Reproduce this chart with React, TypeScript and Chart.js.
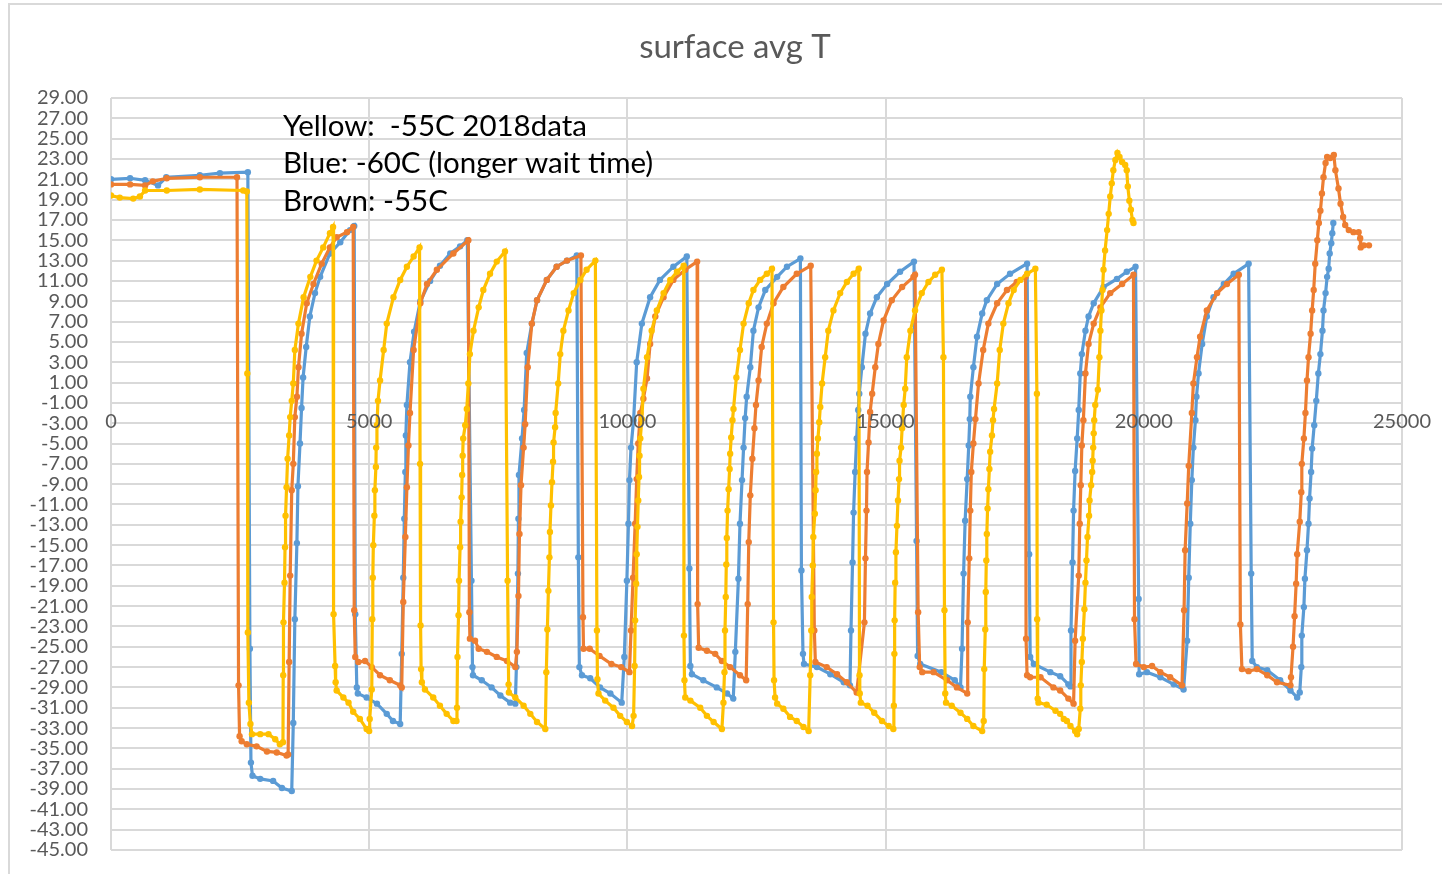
import React, { useEffect, useRef } from "react";
import { Chart, registerables } from "chart.js";

Chart.register(...registerables);

const titleText = "surface avg T";
const noteLines = ["Yellow:  -55C 2018data", "Blue: -60C (longer wait time)", "Brown: -55C"];
const xTickValues = [0, 5000, 10000, 15000, 20000, 25000];
const yMin = -45;
const yMax = 29;
const yStep = 2;

// Blue: -60C (longer wait time)
const blueData: [number, number][] = [
  [0, 21.0], [370, 21.1], [660, 20.9], [910, 20.4], [1070, 21.2], [1720, 21.4], [2110, 21.6], [2650, 21.7],
  [2690, -25.2], [2710, -36.4], [2740, -37.7], [2890, -38.0], [3140, -38.2], [3310, -38.9], [3500, -39.2],
  [3530, -32.5], [3560, -22.3], [3600, -14.8], [3620, -9.2], [3660, -5.0], [3690, -1.5], [3720, 1.5], [3780, 4.5], [3850, 7.5], [3950, 9.8], [4050, 11.4], [4240, 13.7], [4440, 14.8], [4630, 16.0], [4710, 16.4],
  [4730, -21.8], [4760, -29.0], [4780, -29.6], [4950, -30.0], [5150, -30.6], [5340, -31.6], [5460, -32.3], [5600, -32.6],
  [5630, -25.7], [5660, -18.2], [5680, -12.4], [5700, -7.8], [5710, -4.2], [5730, -1.2], [5790, 3.0], [5870, 6.0], [5990, 9.0], [6180, 11.0], [6370, 12.5], [6570, 13.7], [6760, 14.4], [6900, 15.0],
  [6980, -18.5], [7000, -27.0], [7010, -27.8], [7180, -28.3], [7370, -29.0], [7540, -29.8], [7730, -30.5], [7830, -30.6],
  [7850, -27.0], [7880, -17.8], [7890, -12.4], [7900, -8.1], [7960, -4.5], [8000, -1.7], [8050, 3.9], [8150, 6.8], [8250, 9.1], [8440, 11.1], [8630, 12.4], [8830, 13.0], [9020, 13.5],
  [9050, -16.2], [9070, -27.0], [9120, -27.8], [9280, -28.1], [9470, -29.0], [9670, -29.6], [9890, -30.5],
  [9940, -26.0], [9990, -18.5], [10020, -12.9], [10040, -8.6], [10070, -5.4], [10120, -2.7], [10180, 3.0], [10280, 6.8], [10440, 9.4], [10630, 11.1], [10890, 12.4], [11150, 13.4],
  [11200, -17.3], [11220, -26.9], [11250, -27.7], [11470, -28.3], [11730, -29.0], [11930, -29.6], [12050, -30.1],
  [12090, -25.5], [12150, -18.3], [12180, -12.9], [12220, -8.6], [12250, -5.4], [12280, -2.5], [12310, -0.4], [12380, 2.5], [12440, 6.1], [12540, 8.4], [12670, 10.1], [12900, 11.4], [13090, 12.4], [13350, 13.2],
  [13370, -17.5], [13400, -25.7], [13420, -26.7], [13670, -27.0], [13930, -27.7], [14190, -28.5], [14310, -28.8],
  [14330, -23.4], [14360, -16.7], [14380, -11.8], [14410, -7.8], [14440, -4.5], [14470, -1.7], [14490, -0.1], [14540, 2.5], [14610, 5.8], [14700, 7.8], [14830, 9.4], [15030, 10.7], [15280, 11.9], [15550, 12.9],
  [15600, -14.6], [15620, -25.9], [15670, -26.7], [16080, -27.5], [16340, -28.3], [16450, -29.0],
  [16480, -25.2], [16510, -17.8], [16540, -12.6], [16580, -8.5], [16610, -5.2], [16630, -2.6], [16640, -0.4], [16700, 2.5], [16770, 5.5], [16870, 7.8], [16960, 9.1], [17160, 10.7], [17410, 11.7], [17740, 12.7],
  [17780, -15.9], [17800, -26.0], [17870, -26.7], [18190, -27.5], [18380, -27.9], [18540, -28.7], [18580, -28.9],
  [18590, -23.4], [18620, -16.7], [18640, -11.6], [18670, -7.7], [18710, -4.5], [18740, -1.7], [18770, 1.9], [18800, 3.8], [18870, 6.1], [18930, 7.5], [19030, 8.8], [19220, 10.4], [19480, 11.2], [19670, 11.9], [19840, 12.4],
  [19900, -20.3], [19910, -27.7], [20060, -27.5], [20320, -28.0], [20580, -28.7], [20770, -29.2],
  [20840, -24.4], [20870, -18.2], [20900, -12.9], [20930, -8.6], [20960, -5.4], [21000, -2.7], [21020, -0.4], [21060, 1.9], [21130, 4.8], [21220, 7.5], [21350, 9.4], [21550, 10.7], [21740, 11.7], [22030, 12.7],
  [22080, -17.8], [22100, -26.4], [22190, -27.0], [22390, -27.3], [22640, -28.3], [22840, -29.3], [22970, -30.0], [23020, -29.5],
  [23050, -27.0], [23060, -23.9], [23100, -21.1], [23120, -18.3], [23160, -15.5], [23190, -12.9], [23210, -10.4], [23240, -7.8], [23260, -5.5], [23300, -3.2], [23340, -0.8], [23380, 1.9], [23420, 3.8], [23460, 6.1], [23480, 8.1], [23520, 9.8], [23550, 11.4], [23580, 12.2], [23600, 13.7], [23630, 14.7], [23650, 15.7], [23670, 16.7],
];

// Brown (orange): -55C
const orangeData: [number, number][] = [
  [0, 20.5], [370, 20.5], [660, 20.4], [810, 20.8], [1080, 21.1], [1720, 21.2], [2440, 21.2],
  [2470, -28.8], [2490, -33.8], [2530, -34.3], [2630, -34.6], [2820, -34.8], [3020, -35.3], [3210, -35.4], [3400, -35.7], [3430, -35.6],
  [3450, -26.5], [3470, -18.0], [3500, -9.6], [3530, -7.0], [3560, -2.4], [3600, -0.4], [3630, 2.5], [3690, 5.8], [3790, 8.8], [3920, 10.7], [4080, 12.7], [4240, 14.3], [4370, 15.3], [4570, 15.8], [4690, 16.3],
  [4710, -21.4], [4730, -26.0], [4790, -26.5], [4920, -26.4], [5050, -27.0], [5210, -27.8], [5400, -28.3], [5600, -28.8], [5630, -29.0],
  [5660, -20.6], [5700, -14.2], [5730, -9.3], [5760, -5.2], [5790, -2.0], [5860, 4.2], [5990, 8.8], [6120, 10.7], [6310, 12.1], [6630, 13.7], [6920, 15.0],
  [6940, -21.6], [6950, -24.2], [7050, -24.4], [7120, -25.2], [7280, -25.5], [7470, -26.0], [7670, -26.4], [7830, -27.0],
  [7860, -25.5], [7890, -20.0], [7910, -13.9], [7940, -9.1], [7990, -5.4], [8020, -3.1], [8070, 2.5], [8150, 6.8], [8250, 9.1], [8440, 11.1], [8630, 12.4], [8830, 13.0], [9100, 13.5],
  [9140, -22.1], [9150, -25.2], [9270, -25.2], [9460, -25.9], [9690, -26.7], [9880, -27.0], [10040, -27.5],
  [10070, -23.4], [10110, -18.2], [10150, -12.9], [10180, -8.5], [10210, -5.0], [10250, -2.0], [10310, -0.6], [10380, 1.4], [10440, 4.8], [10540, 7.5], [10700, 9.4], [10890, 11.1], [11120, 12.1], [11350, 12.9],
  [11360, -20.8], [11380, -25.1], [11540, -25.4], [11700, -25.7], [11830, -26.4], [11990, -27.0], [12180, -27.8], [12300, -28.3],
  [12330, -20.8], [12350, -14.7], [12380, -10.1], [12420, -6.5], [12460, -3.5], [12490, -1.2], [12540, 1.2], [12600, 4.5], [12700, 6.8], [12830, 8.8], [13020, 10.4], [13280, 11.7], [13550, 12.5],
  [13620, -23.4], [13640, -26.5], [13860, -27.0], [14060, -27.7], [14250, -28.5], [14440, -29.5],
  [14590, -22.6], [14610, -16.3], [14630, -11.6], [14640, -7.8], [14670, -4.9], [14700, -1.9], [14740, -0.1], [14800, 2.5], [14860, 4.8], [14960, 7.1], [15120, 9.1], [15320, 10.4], [15540, 11.4], [15570, 11.6],
  [15630, -21.6], [15660, -27.0], [15710, -27.5], [15930, -27.5], [16190, -28.3], [16380, -29.0], [16580, -29.6],
  [16590, -22.6], [16620, -16.3], [16640, -11.6], [16660, -7.8], [16700, -5.0], [16740, -2.6], [16800, 0.9], [16890, 4.2], [16990, 6.8], [17160, 8.8], [17350, 10.1], [17540, 10.9], [17710, 11.4],
  [17720, -24.2], [17740, -27.8], [17800, -28.0], [18000, -28.0], [18250, -29.0], [18380, -29.3], [18540, -30.1], [18640, -30.6],
  [18670, -24.4], [18740, -18.0], [18760, -12.9], [18780, -9.1], [18800, -5.2], [18830, -2.7], [18870, 1.9], [18930, 4.8], [19030, 6.8], [19160, 8.4], [19350, 9.8], [19580, 10.7], [19800, 11.6],
  [19820, -22.3], [19850, -26.7], [20000, -27.0], [20160, -26.9], [20320, -27.5], [20510, -28.0], [20740, -28.8],
  [20780, -21.4], [20800, -15.5], [20840, -10.9], [20870, -7.2], [20930, -2.0], [20960, 0.9], [21030, 3.5], [21090, 5.5], [21220, 8.1], [21420, 9.8], [21610, 10.7], [21840, 11.6],
  [21870, -22.8], [21900, -27.2], [22030, -27.4], [22190, -27.2], [22390, -27.8], [22580, -28.5], [22840, -28.8],
  [22850, -28.0], [22890, -25.0], [22920, -22.0], [22950, -18.8], [22970, -15.9], [23020, -12.7], [23050, -9.8], [23060, -7.0], [23100, -4.5], [23130, -2.0], [23160, 1.2], [23190, 3.5], [23230, 5.8], [23260, 8.1], [23290, 10.1], [23320, 12.7], [23360, 15.0], [23390, 16.7], [23420, 17.9], [23450, 19.6], [23480, 21.2], [23520, 22.6], [23550, 23.2], [23610, 23.1], [23680, 23.4], [23710, 21.9], [23770, 20.1], [23810, 18.6], [23860, 17.3], [23900, 16.5], [23970, 16.0], [24060, 15.8], [24160, 15.8], [24190, 15.2], [24200, 14.3], [24260, 14.5], [24360, 14.5],
];

// Yellow: -55C 2018data
const yellowData: [number, number][] = [
  [0, 19.4], [170, 19.2], [430, 19.1], [560, 19.3], [660, 19.9], [1080, 19.9], [1720, 20.0], [2560, 19.9], [2630, 19.8],
  [2640, 1.9], [2650, -23.6], [2670, -30.5], [2700, -32.6], [2730, -33.6], [2890, -33.6], [3050, -33.6], [3180, -34.1], [3270, -34.6], [3330, -34.4],
  [3335, -27.8], [3340, -22.6], [3360, -18.7], [3370, -15.2], [3380, -12.1], [3400, -9.3], [3420, -6.5], [3450, -4.2], [3470, -2.4], [3500, -0.8], [3530, 0.9], [3560, 4.2], [3630, 6.8], [3730, 9.4], [3860, 11.4], [3980, 13.0], [4110, 14.3], [4240, 15.7], [4300, 16.3],
  [4310, -21.8], [4340, -26.9], [4350, -28.5], [4370, -29.3], [4500, -30.0], [4600, -30.5], [4690, -31.4], [4820, -32.1], [4950, -33.1], [5000, -33.3],
  [5010, -32.1], [5050, -29.2], [5060, -22.3], [5070, -18.2], [5080, -15.0], [5100, -12.1], [5110, -9.6], [5130, -7.3], [5135, -5.4], [5150, -3.2], [5170, -0.8], [5210, 1.2], [5280, 4.2], [5340, 6.8], [5470, 9.4], [5600, 11.1], [5730, 12.4], [5860, 13.4], [5975, 14.3],
  [5985, -7.0], [5995, -22.9], [6005, -27.2], [6020, -28.5], [6080, -29.2], [6240, -30.0], [6370, -30.8], [6500, -31.6], [6630, -32.3], [6690, -32.3],
  [6700, -31.0], [6710, -26.0], [6730, -21.9], [6740, -18.5], [6760, -15.2], [6770, -12.7], [6790, -10.3], [6800, -8.1], [6810, -6.2], [6820, -4.5], [6860, -3.2], [6890, -1.6], [6920, 0.9], [6950, 3.8], [7020, 6.1], [7120, 8.4], [7210, 10.1], [7340, 11.7], [7470, 12.9], [7630, 13.9],
  [7680, -18.5], [7700, -28.7], [7705, -29.5], [7830, -30.0], [7990, -30.8], [8120, -31.6], [8250, -32.4], [8410, -33.1],
  [8430, -27.5], [8450, -23.3], [8470, -19.5], [8490, -16.2], [8500, -13.7], [8520, -11.1], [8540, -8.8], [8560, -6.8], [8570, -4.9], [8600, -3.4], [8610, -2.0], [8660, 0.9], [8700, 3.8], [8760, 6.1], [8860, 8.1], [8960, 9.8], [9090, 11.1], [9210, 12.1], [9380, 13.0],
  [9410, -23.4], [9420, -28.2], [9440, -29.6], [9570, -30.3], [9730, -31.0], [9860, -31.8], [9990, -32.4], [10090, -32.8],
  [10120, -31.8], [10140, -26.9], [10150, -22.4], [10170, -18.8], [10180, -15.9], [10195, -13.2], [10210, -10.6], [10225, -8.3], [10235, -6.2], [10250, -4.5], [10280, -2.6], [10310, 0.4], [10380, 3.5], [10470, 6.1], [10570, 8.1], [10700, 9.8], [10830, 11.1], [10960, 11.9], [11090, 12.5],
  [11095, -23.9], [11105, -28.3], [11120, -30.0], [11220, -30.3], [11410, -31.0], [11540, -31.8], [11670, -32.4], [11830, -33.1],
  [11860, -30.5], [11880, -27.5], [11890, -23.4], [11905, -20.1], [11915, -16.9], [11925, -14.3], [11940, -11.6], [11960, -9.5], [11980, -7.5], [11990, -6.0], [12010, -4.4], [12035, -2.7], [12055, -1.6], [12110, 1.5], [12180, 4.2], [12250, 6.8], [12350, 8.8], [12440, 10.1], [12570, 11.1], [12700, 11.7], [12800, 12.2],
  [12830, -22.6], [12840, -28.3], [12860, -30.0], [12900, -30.6], [13020, -31.1], [13150, -31.9], [13280, -32.3], [13410, -32.9], [13510, -33.3],
  [13540, -27.8], [13560, -23.4], [13570, -20.1], [13590, -17.0], [13600, -14.2], [13630, -11.9], [13645, -9.6], [13655, -7.8], [13670, -6.0], [13690, -4.5], [13715, -2.9], [13735, -1.4], [13770, 0.9], [13830, 3.5], [13890, 6.1], [13990, 8.1], [14120, 9.8], [14250, 10.9], [14380, 11.7], [14480, 12.2],
  [14495, -27.8], [14500, -29.6], [14520, -30.5], [14650, -30.8], [14780, -31.5], [14930, -32.3], [15060, -32.8], [15150, -33.1],
  [15160, -30.8], [15170, -25.7], [15175, -22.4], [15185, -18.7], [15200, -15.7], [15220, -13.1], [15240, -10.6], [15260, -8.5], [15270, -6.7], [15300, -5.4], [15320, -3.5], [15350, -1.2], [15380, 0.4], [15410, 3.5], [15480, 6.1], [15570, 8.1], [15700, 9.8], [15830, 10.9], [15960, 11.6], [16090, 12.1],
  [16120, 3.5], [16140, -21.4], [16155, -29.6], [16170, -30.5], [16280, -30.8], [16450, -31.5], [16580, -32.1], [16700, -32.8], [16870, -33.3],
  [16900, -32.3], [16910, -27.2], [16930, -23.3], [16940, -19.6], [16950, -16.5], [16960, -13.9], [16975, -11.4], [16990, -9.5], [17010, -7.5], [17025, -5.8], [17060, -4.2], [17080, -2.7], [17100, -1.6], [17160, 0.9], [17210, 4.2], [17280, 6.8], [17380, 8.8], [17480, 10.1], [17610, 11.1], [17740, 11.7], [17900, 12.2],
  [17930, -0.1], [17935, -22.3], [17945, -30.1], [17960, -30.5], [18120, -30.7], [18290, -31.3], [18380, -31.6], [18450, -32.1], [18510, -32.3], [18580, -32.8], [18670, -33.3], [18710, -33.6],
  [18740, -33.1], [18770, -31.1], [18780, -28.8], [18800, -26.5], [18820, -24.2], [18850, -21.3], [18870, -18.7], [18890, -16.5], [18910, -14.2], [18940, -12.1], [18950, -10.6], [18980, -9.1], [19000, -7.8], [19010, -6.7], [19020, -5.4], [19030, -4.0], [19040, -2.7], [19060, -1.2], [19110, 0.3], [19140, 3.5], [19160, 6.1], [19180, 8.1], [19200, 10.1], [19220, 12.1], [19250, 14.0], [19290, 16.0], [19320, 17.6], [19350, 19.3], [19380, 20.6], [19410, 21.9], [19450, 22.9], [19490, 23.6], [19530, 23.2], [19580, 22.7], [19640, 22.4], [19670, 21.9], [19690, 20.3], [19720, 18.9], [19750, 18.0], [19780, 17.0], [19800, 16.7],
];

const BLUE = "#5B9BD5";
const ORANGE = "#ED7D31";
const YELLOW = "#FFC000";
const GRID = "#d9d9d9";
const TEXT_GREY = "#595959";
const FONT = "Lato";

export default function App() {
  const canvasRef = useRef<HTMLCanvasElement | null>(null);

  useEffect(() => {
    const canvas = canvasRef.current;
    if (!canvas) return;

    const toPoints = (d: [number, number][]) => d.map(([x, y]) => ({ x, y }));

    const overlay = {
      id: "overlay",
      afterDraw(chart: any) {
        const ctx = chart.ctx as CanvasRenderingContext2D;
        const xs = chart.scales.x;
        const ys = chart.scales.y;
        ctx.save();
        // x tick labels, placed below the y = 0 line
        ctx.font = `20px ${FONT}`;
        ctx.fillStyle = TEXT_GREY;
        ctx.textAlign = "center";
        ctx.textBaseline = "middle";
        const y0 = ys.getPixelForValue(0);
        xTickValues.forEach((v) => {
          ctx.fillText(String(v), xs.getPixelForValue(v), y0 + 29);
        });
        // title
        ctx.font = `33px ${FONT}`;
        ctx.fillStyle = TEXT_GREY;
        ctx.fillText(titleText, 735, 47);
        // annotation
        ctx.font = `29.5px ${FONT}`;
        ctx.fillStyle = "#000000";
        ctx.textAlign = "left";
        noteLines.forEach((line, i) => {
          ctx.fillText(line, 283, 126 + i * 37.5);
        });
        ctx.restore();
      },
    };

    const common = {
      showLine: true,
      borderWidth: 3.2,
      pointRadius: 3.2,
      pointBorderWidth: 0,
      tension: 0,
    };

    const chart = new Chart(canvas, {
      type: "scatter",
      data: {
        datasets: [
          { label: "Yellow", data: toPoints(yellowData), borderColor: YELLOW, backgroundColor: YELLOW, order: 0, ...common },
          { label: "Brown", data: toPoints(orangeData), borderColor: ORANGE, backgroundColor: ORANGE, order: 1, ...common },
          { label: "Blue", data: toPoints(blueData), borderColor: BLUE, backgroundColor: BLUE, order: 2, ...common },
        ],
      },
      options: {
        responsive: false,
        animation: false,
        events: [],
        layout: { padding: { left: 0, top: 98, right: 40, bottom: 24 } },
        plugins: {
          legend: { display: false },
          tooltip: { enabled: false },
          title: { display: false },
        },
        scales: {
          x: {
            type: "linear",
            min: 0,
            max: 25000,
            ticks: { stepSize: 5000, display: false },
            grid: { color: GRID, lineWidth: 2, drawTicks: false },
            border: { display: false },
            afterFit: (s: any) => {
              s.height = 0;
              s.paddingLeft = 0;
              s.paddingRight = 0;
            },
          },
          y: {
            type: "linear",
            min: yMin,
            max: yMax,
            ticks: {
              stepSize: yStep,
              autoSkip: false,
              padding: 23,
              color: TEXT_GREY,
              font: { family: FONT, size: 20 },
              callback: (v: any) => Number(v).toFixed(2),
            },
            grid: { color: GRID, lineWidth: 2, drawTicks: false },
            border: { display: false },
            afterFit: (s: any) => {
              s.width = 111;
              s.paddingTop = 0;
              s.paddingBottom = 0;
            },
          },
        },
      },
      plugins: [overlay],
    } as any);

    return () => chart.destroy();
  }, []);

  return (
    <div
      style={{
        position: "fixed",
        left: 0,
        top: 0,
        width: 1442,
        height: 874,
        overflow: "hidden",
        background: "#ffffff",
      }}
    >
      <div
        style={{
          position: "absolute",
          left: 8,
          top: 3,
          width: 1500,
          height: 1000,
          border: "2px solid #d9d9d9",
          boxSizing: "border-box",
        }}
      />
      <canvas
        ref={canvasRef}
        width={1442}
        height={874}
        style={{ position: "absolute", left: 0, top: 0, width: 1442, height: 874 }}
      />
    </div>
  );
}
